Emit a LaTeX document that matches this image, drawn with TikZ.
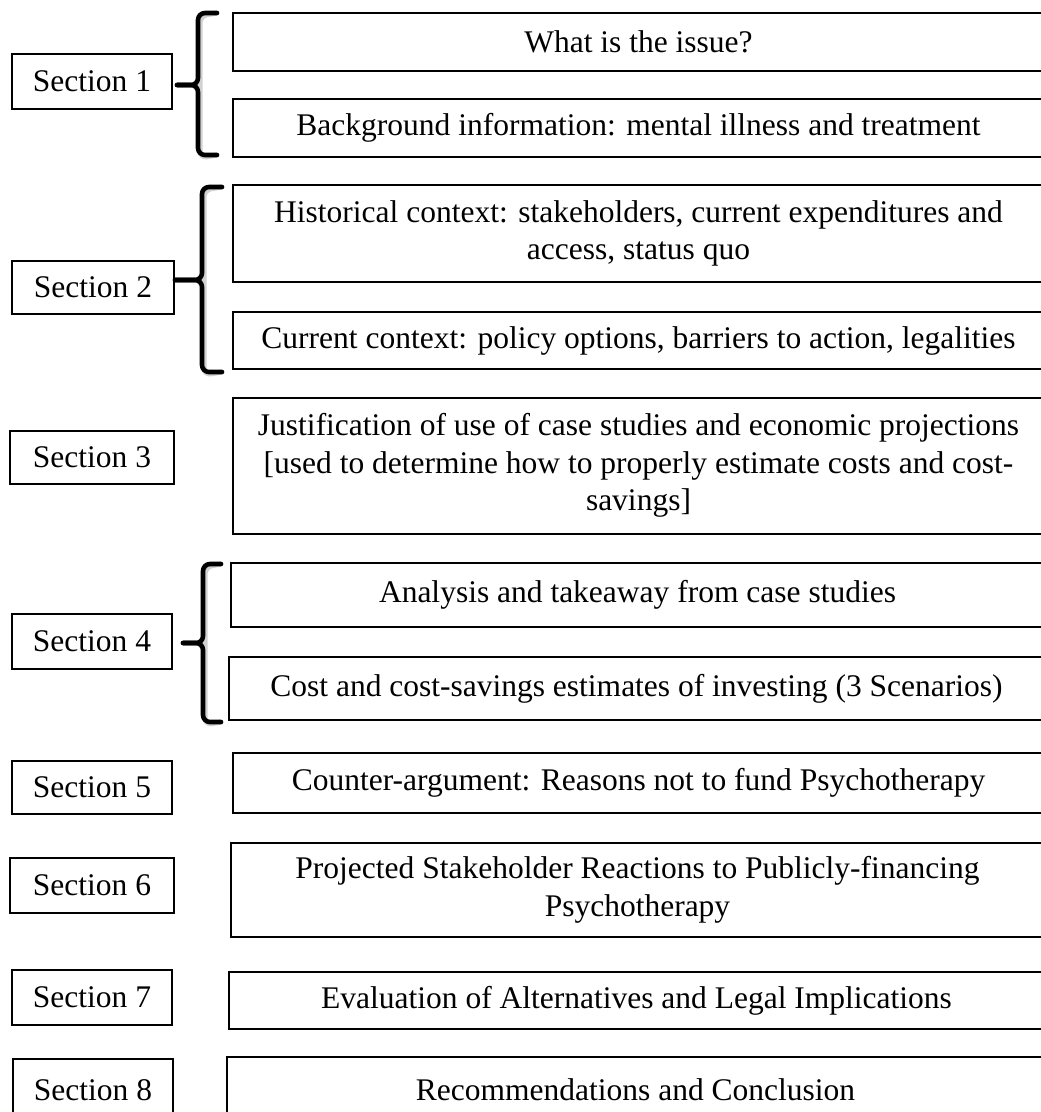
\documentclass[tikz,border=0pt]{standalone}
\usepackage{fontspec}
\setmainfont{Liberation Serif}
\begin{document}
\begin{tikzpicture}[x=1pt,y=-1pt,
  sbox/.style={draw=black, line width=1.2pt, inner sep=0pt, align=center,
    font=\fontsize{31.5}{37.5}\selectfont},
  brace/.style={line width=4.6pt, rounded corners=7pt, line cap=round, line join=round},
  braceshadow/.style={line width=5pt, rounded corners=7pt, draw=black!18, line cap=round}]
\useasboundingbox (0,0) rectangle (1041,1112);
\clip (0,0) rectangle (1041,1112);

% boxes given as (left, top, right, bottom)
\newcommand{\secbox}[6]{\node[sbox, minimum width={#4-#2}, minimum height={#5-#3}] (#1) at ({(#2+#4)/2},{(#3+#5)/2}) {#6};}
\secbox{s1}{12}{54}{172}{109}{Section 1}
\secbox{s2}{12}{261}{174}{314}{Section 2}
\secbox{s3}{10}{431}{174}{484}{Section 3}
\secbox{s4}{12}{614}{172}{669}{Section 4}
\secbox{s5}{12}{761}{172}{814}{Section 5}
\secbox{s6}{10}{858}{174}{913}{Section 6}
\secbox{s7}{12}{970}{172}{1025}{Section 7}
\secbox{s8}{13}{1059}{173}{1122}{Section 8}

\secbox{r1a}{233}{13}{1044}{71}{What is the issue?}
\secbox{r1b}{233}{99}{1044}{157}{Background information: mental illness and treatment}
\secbox{r2a}{233}{185}{1044}{282}{Historical context: stakeholders, current expenditures and\\access, status quo}
\secbox{r2b}{233}{312}{1044}{369}{Current context: policy options, barriers to action, legalities}
\secbox{r3}{233}{398}{1044}{534}{Justification of use of case studies and economic projections\\{}[used to determine how to properly estimate costs and cost-\\savings]\\[-30pt]}
\secbox{r4a}{231}{563}{1044}{627}{Analysis and takeaway from case studies}
\secbox{r4b}{229}{657}{1044}{720}{Cost and cost-savings estimates of investing (3 Scenarios)}
\secbox{r5}{233}{753}{1044}{813}{Counter-argument: Reasons not to fund Psychotherapy}
\secbox{r6}{231}{843}{1044}{937}{Projected Stakeholder Reactions to Publicly-financing\\Psychotherapy}
\secbox{r7}{229}{972}{1044}{1029}{Evaluation of Alternatives and Legal Implications}
\secbox{r8}{227}{1057}{1044}{1122}{Recommendations and Conclusion}

% brace end points
\coordinate (b1t) at (217,13);  \coordinate (b1b) at (217,155); \coordinate (b1m) at (177,85);
\coordinate (b2t) at (222,187); \coordinate (b2b) at (222,372); \coordinate (b2m) at (175,280);
\coordinate (b4t) at (221,564); \coordinate (b4b) at (221,722); \coordinate (b4m) at (183,643);

% shadows
\begin{scope}[xshift=2pt,yshift=-3pt]
\draw[braceshadow] (b1t) -- (198,13) -- (198,155) -- (b1b);
\draw[braceshadow] (b2t) -- (202,187) -- (202,372) -- (b2b);
\draw[braceshadow] (b4t) -- (203,564) -- (203,722) -- (b4b);
\end{scope}

% braces
\draw[brace] (b1t) -- (198,13) -- (198,85) -- (b1m);
\draw[brace] (b1m) -- (198,85) -- (198,155) -- (b1b);
\draw[brace] (b2t) -- (202,187) -- (202,280) -- (b2m);
\draw[brace] (b2m) -- (202,280) -- (202,372) -- (b2b);
\draw[brace] (b4t) -- (203,564) -- (203,643) -- (b4m);
\draw[brace] (b4m) -- (203,643) -- (203,722) -- (b4b);
\end{tikzpicture}
\end{document}
